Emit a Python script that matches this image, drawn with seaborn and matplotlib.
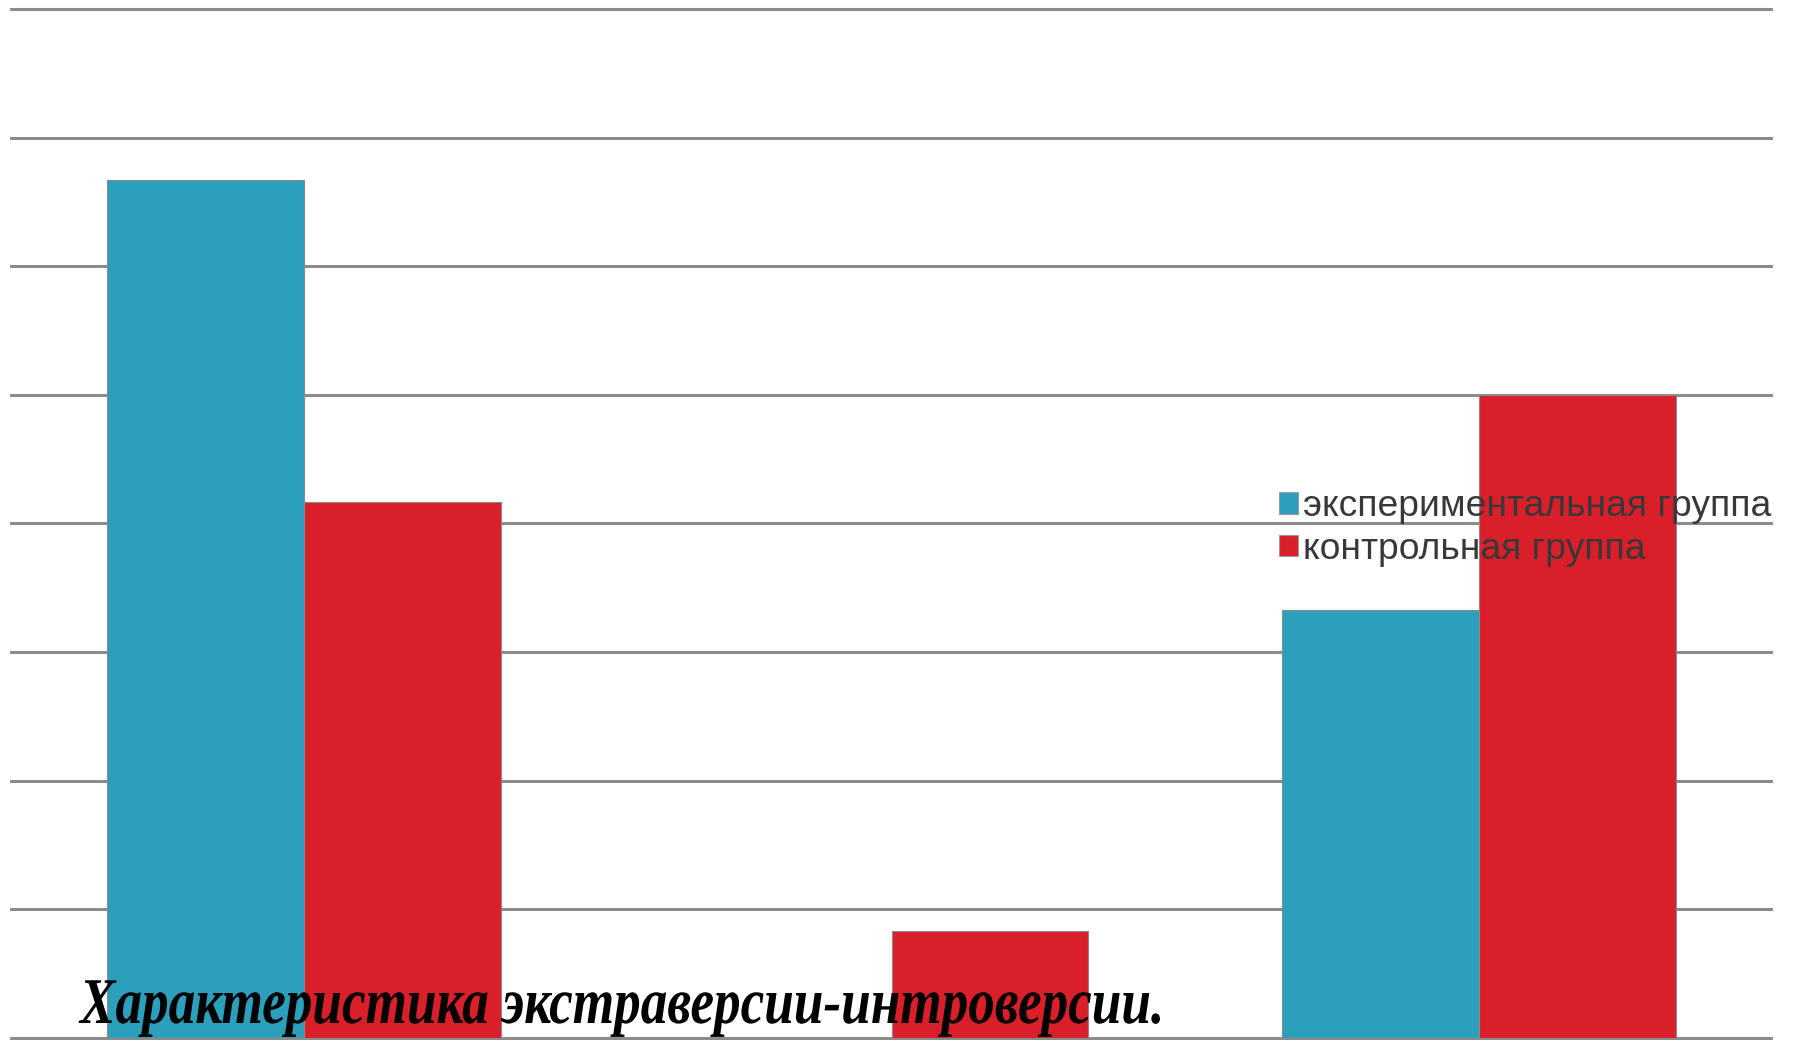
import pandas as pd
import seaborn as sns
import matplotlib.pyplot as plt
from matplotlib.patheffects import AbstractPathEffect
from matplotlib.transforms import Affine2D

# Data (percent of group)
categories = ['экстраверты', 'амбиверты', 'интроверты']
groups = ['экспериментальная группа', 'контрольная группа']
exp_values = [66.7, 0.0, 33.3]
ctrl_values = [41.7, 8.3, 50.0]
y_ticks = list(range(0, 90, 10))

colors = ['#2C9FBD', '#D91F2A']
title_text = 'Характеристика экстраверсии-интроверсии.'


class Condense(AbstractPathEffect):
    """Squeeze text horizontally around x0 (display px)."""
    def __init__(self, x0, sx):
        super().__init__()
        self.x0, self.sx = x0, sx

    def draw_path(self, renderer, gc, tpath, affine, rgbFace=None):
        squeeze = Affine2D().translate(-self.x0, 0).scale(self.sx, 1).translate(self.x0, 0)
        renderer.draw_path(gc, tpath, affine + squeeze, rgbFace)


df = pd.DataFrame({
    'category': categories * 2,
    'group': [groups[0]] * 3 + [groups[1]] * 3,
    'value': exp_values + ctrl_values,
})

sns.set_style('white')
plt.rcParams['font.family'] = ['Liberation Sans', 'DejaVu Sans']

fig = plt.figure(figsize=(17.97, 10.40), dpi=100)
ax = fig.add_axes([10 / 1797, -0.0005, (1773 - 10) / 1797, 0.9981])

sns.barplot(data=df, x='category', y='value', hue='group', order=categories,
            hue_order=groups, palette=colors, width=0.67, gap=0,
            edgecolor='#8a8a8a', linewidth=0.8, saturation=1, ax=ax,
            legend=False)

ax.set_xlim(-0.5, 2.5)
ax.set_ylim(-0.2, 80.5)
ax.set_yticks(y_ticks)
ax.set_xticks([])
ax.tick_params(left=False, bottom=False, labelleft=False, labelbottom=False)
ax.yaxis.grid(True, color='#8c8c8c', linewidth=2.2)
ax.set_axisbelow(True)
for s in ax.spines.values():
    s.set_visible(False)
ax.set_xlabel('')
ax.set_ylabel('')

# legend drawn on top of the bars, no frame
handles = [plt.Rectangle((0, 0), 1, 1, facecolor=c, edgecolor='#9a9a9a', linewidth=0.8)
           for c in colors]
leg = fig.legend(handles, groups, loc='center left',
                 bbox_to_anchor=(1279 / 1797, 1 - 528 / 1040),
                 frameon=False, fontsize=26.8, handlelength=0.5, handleheight=0.5,
                 handletextpad=0.15, labelspacing=0.2, borderpad=0, borderaxespad=0,
                 labelcolor='#383838')

title_x = 80
fig.text(title_x / 1797, 17 / 1040, title_text, family=['Liberation Serif', 'DejaVu Serif'],
         fontsize=47, fontweight='bold', fontstyle='italic', color='black',
         ha='left', va='baseline', path_effects=[Condense(title_x, 0.815)])

fig.savefig('out.png', dpi=100)
